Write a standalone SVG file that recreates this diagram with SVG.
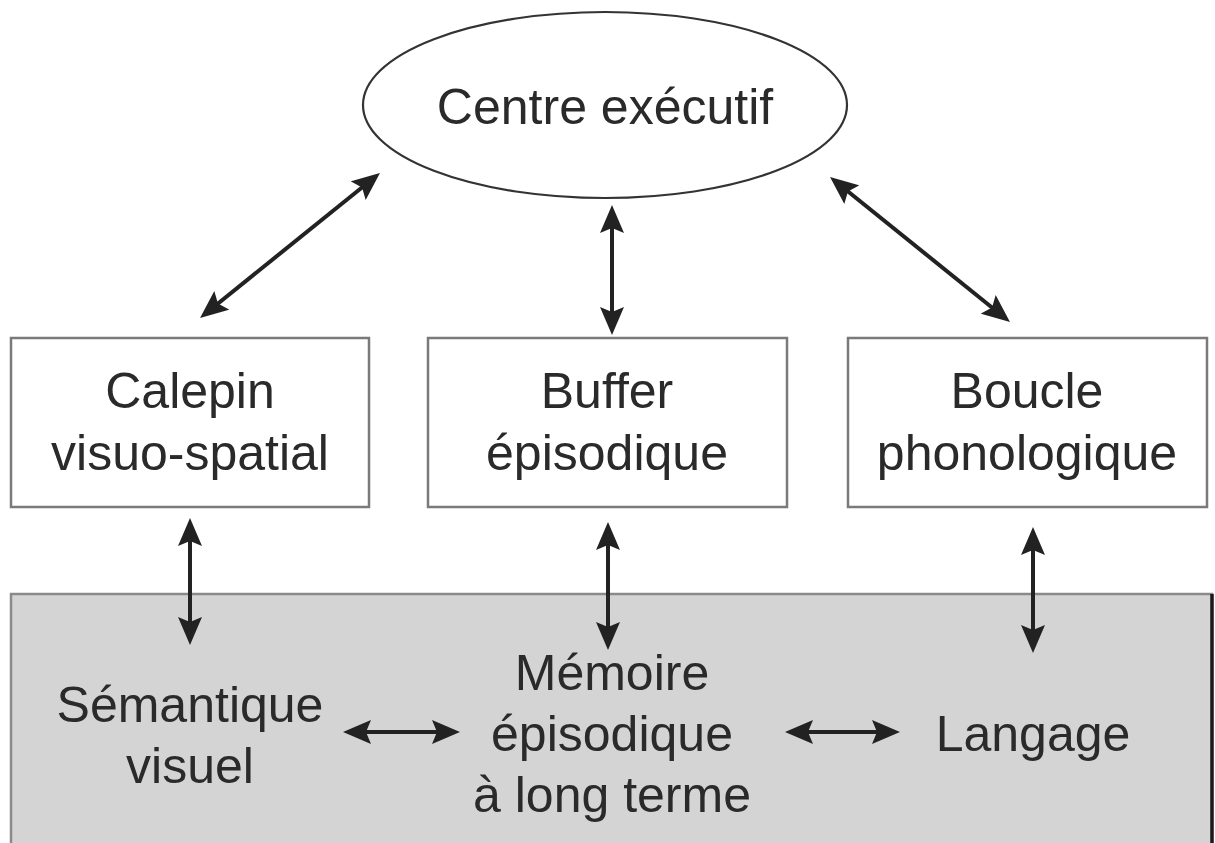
<svg xmlns="http://www.w3.org/2000/svg" width="1215" height="843" viewBox="0 0 1215 843">
  <style>
    .lbl { font-family: "Liberation Sans", Arial, sans-serif; font-size: 50px; fill: #2a2a2a; text-anchor: middle; }
    .box { fill: #ffffff; stroke: #7a7a7a; stroke-width: 2.5; }
    .conn { stroke: #222222; stroke-width: 4; fill: none; marker-start: url(#head); marker-end: url(#head); }
  </style>
  <defs>
    <marker id="head" viewBox="0 0 28 24" markerUnits="userSpaceOnUse" markerWidth="28" markerHeight="24" refX="22" refY="12" orient="auto-start-reverse">
      <path d="M0,0 L28,12 L0,24 L5,12 z" fill="#222222"/>
    </marker>
  </defs>

  <rect width="1215" height="843" fill="#ffffff"/>

  <!-- long-term memory panel -->
  <g id="memoire-long-terme">
    <rect x="11" y="594" width="1201" height="260" fill="#d4d4d4" stroke="#8a8a8a" stroke-width="2.5"/>
    <line x1="1212" y1="594" x2="1212" y2="843" stroke="#1a1a1a" stroke-width="3.5"/>
  </g>

  <g id="centre-executif">
    <ellipse cx="605" cy="105" rx="242" ry="93" fill="#ffffff" stroke="#333333" stroke-width="2.2"/>
    <text class="lbl" x="605" y="124">Centre exécutif</text>
  </g>

  <g id="calepin">
    <rect class="box" x="11" y="338" width="358" height="169"/>
    <text class="lbl" x="190" y="408">Calepin</text>
    <text class="lbl" x="190" y="470">visuo-spatial</text>
  </g>

  <g id="buffer">
    <rect class="box" x="428" y="338" width="359" height="169"/>
    <text class="lbl" x="607" y="408">Buffer</text>
    <text class="lbl" x="607" y="470">épisodique</text>
  </g>

  <g id="boucle">
    <rect class="box" x="848" y="338" width="359" height="169"/>
    <text class="lbl" x="1027" y="408">Boucle</text>
    <text class="lbl" x="1027" y="470">phonologique</text>
  </g>

  <g id="semantique">
    <text class="lbl" x="190" y="722">Sémantique</text>
    <text class="lbl" x="190" y="783">visuel</text>
  </g>

  <g id="memoire-episodique">
    <text class="lbl" x="612" y="690">Mémoire</text>
    <text class="lbl" x="612" y="751">épisodique</text>
    <text class="lbl" x="612" y="812">à long terme</text>
  </g>

  <g id="langage">
    <text class="lbl" x="1033" y="751">Langage</text>
  </g>

  <!-- two-way connectors -->
  <g id="connectors">
    <line class="conn" x1="375.3" y1="176.8" x2="204.7" y2="314.2"/>
    <line class="conn" x1="612" y1="211" x2="612" y2="329"/>
    <line class="conn" x1="834.7" y1="180.8" x2="1005.3" y2="318.2"/>
    <line class="conn" x1="190" y1="524" x2="190" y2="639"/>
    <line class="conn" x1="608" y1="528" x2="608" y2="644"/>
    <line class="conn" x1="1033" y1="533" x2="1033" y2="647"/>
    <line class="conn" x1="349" y1="732" x2="454" y2="732"/>
    <line class="conn" x1="791" y1="732" x2="894" y2="732"/>
  </g>
</svg>
